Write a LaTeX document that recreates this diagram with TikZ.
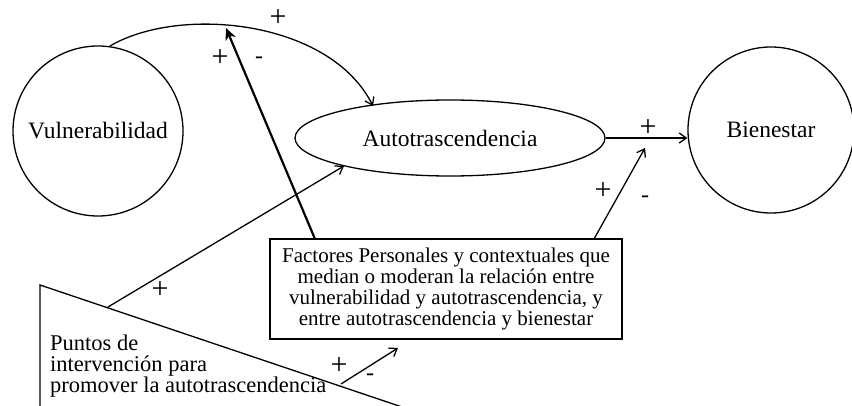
\documentclass[tikz,border=0pt]{standalone}
\usepackage{fontspec}
\setmainfont{Liberation Serif}
\usetikzlibrary{arrows.meta,shapes.geometric}
\begin{document}
\begin{tikzpicture}[x=1pt,y=-1pt,
  shp/.style={draw,line width=1.3pt},
  lbl/.style={font=\fontsize{23.5}{24}\selectfont},
  boxtxt/.style={font=\fontsize{21}{21}\selectfont},
  tritxt/.style={font=\fontsize{22.5}{21}\selectfont},
  arr/.style={line width=1.3pt,-{Straight Barb[length=7pt,width=10pt,line width=1.3pt]}},
  bigarr/.style={line width=2.2pt,-{Stealth[length=12pt,width=11pt]}},
  sgn/.style={font=\fontsize{30}{30}\selectfont,inner sep=0pt},
  msgn/.style={font=\fontsize{24}{24}\selectfont,inner sep=0pt}]
\useasboundingbox (0,0) rectangle (852,406);
\clip (0,0) rectangle (852,406);
\node[shp,circle,minimum size=170pt,inner sep=0pt,lbl] (vul) at (98,131) {Vulnerabilidad};
\node[shp,circle,minimum size=166pt,inner sep=0pt,lbl] (bien) at (771,130) {Bienestar};
\node[shp,ellipse,minimum width=310pt,minimum height=76pt,inner sep=0pt,lbl] (auto) at (450,138) {Autotrascendencia};
\node[shp,rectangle,minimum width=352pt,minimum height=100pt,inner sep=2pt,align=center,boxtxt] (box) at (446,289)
  {Factores Personales y contextuales que\\median o moderan la relación entre\\vulnerabilidad y autotrascendencia, y\\entre autotrascendencia y bienestar};
% triangle
\coordinate (t1) at (40,285);
\coordinate (t2) at (40,440);
\coordinate (t3) at (500,440);
\draw[line width=1.3pt] (t1) -- (t2) -- (t3) -- cycle;
\node[tritxt,align=left,anchor=north west,inner sep=0pt] (tri) at (50,335) {Puntos de\\intervención para\\promover la autotrascendencia};
% arrows
\coordinate (c1) at (110,46);
\coordinate (c1e) at (373,106);
\draw[arr] (c1) .. controls (180,5) and (330,20) .. (c1e);
\node[sgn] (p1) at (278,18) {+};
\coordinate (b1) at (315,239);
\coordinate (b1e) at (226,28);
\draw[bigarr] (b1) -- (b1e);
\node[sgn] (p2) at (220,58) {+};
\node[msgn] (m2) at (259,60) {-};
\draw[arr] (auto.east) -- (auto.east -| bien.west);
\node[sgn] (p3) at (648,128) {+};
\coordinate (b2) at (594,239);
\coordinate (b2e) at (645,148);
\draw[arr] (b2) -- (b2e);
\node[sgn] (p4) at (603,191) {+};
\node[msgn] (m4) at (645,199) {-};
\coordinate (s1) at (108,307);
\coordinate (s1e) at (344,166);
\draw[arr] (s1) -- (s1e);
\node[sgn] (p5) at (160,290) {+};
\coordinate (s2) at (341,384);
\coordinate (s2e) at (398,348);
\draw[arr] (s2) -- (s2e);
\node[sgn] (p6) at (339,366) {+};
\node[msgn] (m6) at (370,377) {-};
\end{tikzpicture}
\end{document}
